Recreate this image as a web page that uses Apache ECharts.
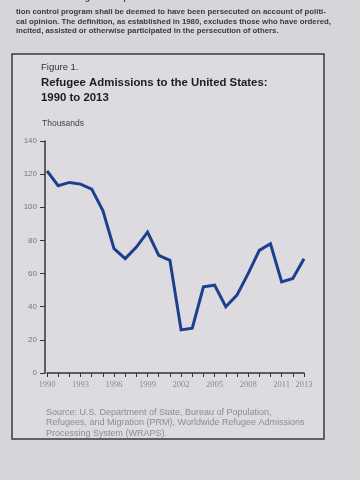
<!DOCTYPE html>
<html><head><meta charset="utf-8">
<script src="https://cdn.jsdelivr.net/npm/echarts@6/dist/echarts.min.js"></script>
<style>html,body{margin:0;padding:0;background:#d7d4da;}#c{width:360px;height:480px;}</style>
</head><body><div id="c"></div>
<script>
const years = ['1990','1991','1992','1993','1994','1995','1996','1997','1998','1999','2000','2001','2002','2003','2004','2005','2006','2007','2008','2009','2010','2011','2012','2013'];
const admissions = [122,113,115,114,111,98,75,69,76,85,71,68,26,27,52,53,40,47,60,74,78,55,57,69];
const yTicks = [0,20,40,60,80,100,120,140];
const labelYears = ['1990','1993','1996','1999','2002','2005','2008','2011','2013'];
const bodyLines = [
  'or refusal to undergo such a procedure',
  'tion control program shall be deemed to have been persecuted on account of politi-',
  'cal opinion. The definition, as established in 1980, excludes those who have ordered,',
  'incited, assisted or otherwise participated in the persecution of others.'
];
const sourceLines = [
  'Source: U.S. Department of State, Bureau of Population,',
  'Refugees, and Migration (PRM), Worldwide Refugee Admissions',
  'Processing System (WRAPS).'
];

const chart = echarts.init(document.getElementById('c'));
const graphics = [
  {type:'rect', shape:{x:12,y:54,width:312,height:385}, style:{fill:'#dddbe0',stroke:'#3a3a3e',lineWidth:1.5}, z:-1},
  {type:'text', left:41, top:62, style:{text:'Figure 1.', font:'9.5px "Liberation Sans"', fill:'#333'}},
  {type:'text', left:41, top:75, style:{text:'Refugee Admissions to the United States:\n1990 to 2013', font:'bold 11.4px "Liberation Sans"', lineHeight:15, fill:'#1d1d20'}},
  {type:'text', left:42, top:119, style:{text:'Thousands', font:'8.5px "Liberation Sans"', fill:'#444'}}
];
bodyLines.forEach((t,i)=>{
  graphics.push({type:'text', left:16, top:[-6,8,18,27][i], style:{text:t, font:'bold 7.8px "Liberation Sans"', fill:'#3a3a40'}});
});
sourceLines.forEach((t,i)=>{
  graphics.push({type:'text', left:46, top:408+i*10.5, style:{text:t, font:'9px "Liberation Sans"', fill:'#8c8a94'}});
});

chart.setOption({
  backgroundColor:'#d7d4da',
  animation:false,
  graphic:graphics,
  grid:{left:47, right:56, top:141, bottom:107},
  xAxis:{
    type:'category', data:years, boundaryGap:false,
    axisLine:{show:true, lineStyle:{color:'#333', width:1.5}},
    axisTick:{show:true, alignWithLabel:true, interval:0, length:4, lineStyle:{color:'#333'}},
    axisLabel:{interval:0, formatter:v=>labelYears.includes(v)?v:'', color:'#8c8a94', fontSize:8.5, fontFamily:'Liberation Serif', margin:7},
    splitLine:{show:false}
  },
  yAxis:{
    type:'value', min:0, max:140, interval:20,
    offset:2,
    axisLine:{show:true, lineStyle:{color:'#333', width:1.5}},
    axisTick:{show:true, length:5, lineStyle:{color:'#333'}},
    axisLabel:{color:'#77757e', fontSize:8, fontFamily:'Liberation Sans', margin:8, formatter:v=>yTicks.includes(v)?String(v):''},
    splitLine:{show:false}
  },
  series:[{
    type:'line', data:admissions, symbol:'none',
    lineStyle:{color:'#1c3f8e', width:3, join:'miter'}
  }]
});
</script></body></html>
